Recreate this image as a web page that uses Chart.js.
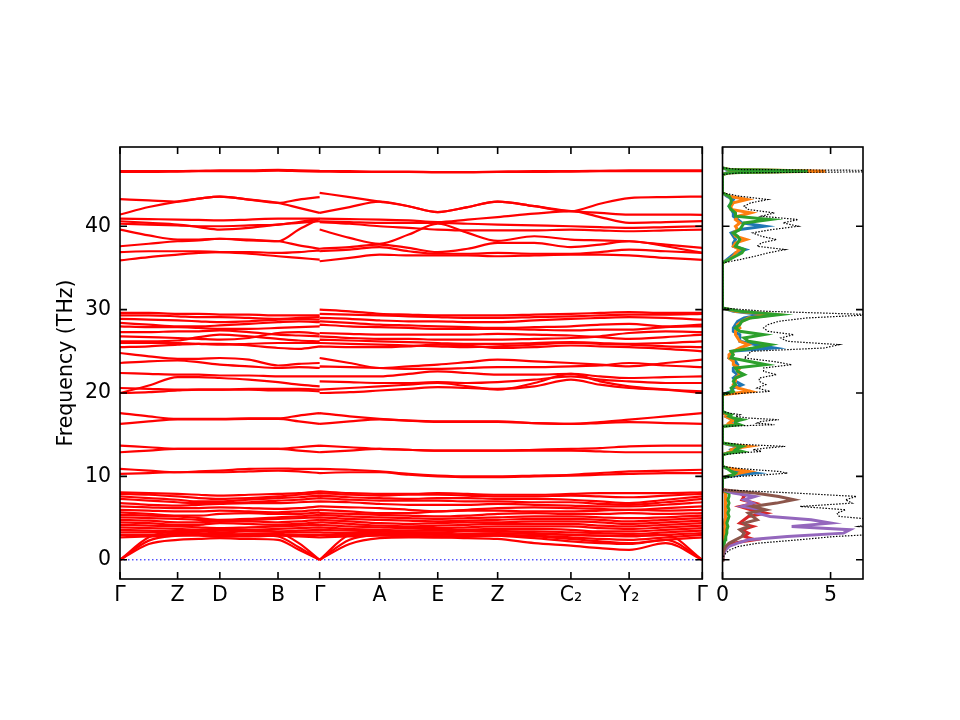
<!DOCTYPE html>
<html>
<head>
<meta charset="utf-8">
<script src="https://cdn.jsdelivr.net/npm/chart.js@4.4.1/dist/chart.umd.min.js"></script>
<style>
  html, body { margin: 0; padding: 0; background: #fff; }
  #wrap { position: relative; width: 960px; height: 720px; }
  #bandBox { position: absolute; left: 0; top: 0; width: 712px; height: 720px; }
  #dosBox { position: absolute; left: 712px; top: 0; width: 248px; height: 720px; }
</style>
</head>
<body>
<div id="wrap">
  <div id="bandBox"><canvas id="bandChart"></canvas></div>
  <div id="dosBox"><canvas id="dosChart"></canvas></div>
</div>
<script>
// q-path: sample positions, Γ-Z-D-B-Γ | Γ-A-E-Z-C2-Y2-Γ
const kPath = [0, 28.85, 57.7, 78.85, 100, 129.15, 158.3, 179.15, 200,
               200, 230, 260, 289.15, 318.3, 348.3, 378.3, 415, 451.7, 480.85, 510, 546.65, 583.3];
const segBreak = 9;
const kTicks = [0, 57.7, 100, 158.3, 200, 260, 318.3, 378.3, 451.7, 510, 583.3];
const kLabels = ['Γ', 'Z', 'D', 'B', 'Γ', 'A', 'E', 'Z', 'C₂', 'Y₂', 'Γ'];
const yTicks = [0, 10, 20, 30, 40];

// phonon branches (THz)
const acousticBands = [
  [0,1.9,2.4,2.5,2.6,2.5,2.4,1.2,0, 0,1.9,2.6,2.7,2.7,2.6,2.5,2.0,1.7,1.4,1.2,2.0,0],
  [0,2.3,2.9,3.0,3.1,3.0,2.8,1.5,0, 0,2.4,3.0,3.1,3.1,3.0,2.9,2.6,2.2,2.0,1.9,2.4,0],
  [0,2.7,3.5,3.6,3.7,3.6,3.3,2.0,0, 0,3.0,3.4,3.5,3.6,3.6,3.5,3.2,3.0,2.9,2.8,3.0,0]
];
const lowBands = [
  [8.1,8.0,7.9,7.8,7.7,7.8,7.9,8.0,8.2, 8.2,8.0,7.9,7.9,8.0,7.9,7.8,7.8,7.9,8.0,8.0,8.0,8.1],
  [7.9,7.8,7.6,7.4,7.3,7.4,7.6,7.8,8.0, 8.0,7.8,7.7,7.8,7.8,7.7,7.6,7.6,7.7,7.6,7.5,7.7,7.9],
  [7.6,7.4,7.2,7.0,7.0,7.2,7.4,7.5,7.7, 7.7,7.5,7.4,7.3,7.4,7.4,7.3,7.3,7.2,7.0,6.8,7.2,7.6],
  [7.3,7.1,6.9,6.8,6.8,6.9,7.1,7.2,7.4, 7.4,7.2,7.1,7.1,7.1,7.0,7.0,6.9,6.9,6.7,6.6,6.9,7.3],
  [6.8,6.6,6.5,6.6,6.7,6.8,6.8,6.9,7.0, 7.0,6.9,6.7,6.6,6.6,6.6,6.7,6.6,6.5,6.4,6.4,6.6,6.9],
  [6.4,6.3,6.2,6.2,6.3,6.2,6.1,6.2,6.4, 6.4,6.3,6.2,6.0,5.8,6.0,6.2,6.3,6.2,6.1,6.0,6.2,6.4],
  [6.0,5.9,5.8,5.8,5.9,5.8,5.7,5.8,6.0, 6.0,5.8,5.6,5.6,5.8,5.9,5.9,5.8,5.8,5.9,6.0,5.9,6.0],
  [5.7,5.5,5.3,5.3,5.5,5.6,5.5,5.5,5.7, 5.6,5.5,5.4,5.3,5.2,5.3,5.5,5.6,5.5,5.5,5.6,5.5,5.6],
  [5.4,5.3,5.2,5.0,4.8,4.9,5.1,5.2,5.4, 5.4,5.2,5.1,5.0,4.9,5.0,5.1,5.2,5.2,5.1,5.0,5.1,5.3],
  [5.1,5.0,4.9,4.8,4.7,4.8,4.9,5.0,5.1, 5.1,4.9,4.8,4.7,4.6,4.7,4.8,4.9,4.9,4.8,4.6,4.8,5.0],
  [4.8,4.7,4.5,4.5,4.6,4.6,4.5,4.6,4.8, 4.8,4.6,4.4,4.3,4.4,4.5,4.5,4.6,4.6,4.5,4.3,4.5,4.7],
  [4.5,4.4,4.2,4.2,4.4,4.3,4.2,4.3,4.5, 4.5,4.3,4.1,4.0,4.1,4.2,4.3,4.3,4.3,4.1,4.0,4.2,4.4],
  [4.2,4.1,4.0,3.9,3.8,3.9,4.0,4.1,4.2, 4.2,4.0,3.9,3.8,3.8,3.9,4.0,4.0,4.0,3.8,3.7,3.9,4.1],
  [3.9,3.8,3.7,3.6,3.5,3.6,3.7,3.8,3.9, 3.9,3.7,3.6,3.5,3.5,3.6,3.7,3.7,3.6,3.4,3.4,3.6,3.8],
  [3.6,3.5,3.4,3.4,3.3,3.4,3.4,3.5,3.6, 3.6,3.5,3.4,3.3,3.3,3.4,3.4,3.4,3.3,3.2,3.1,3.3,3.5],
  [3.3,3.3,3.3,3.2,3.0,3.1,3.2,3.3,3.3, 3.3,3.2,3.2,3.1,3.0,3.1,3.2,3.1,3.0,2.9,2.9,3.0,3.2],
  [3.0,3.0,3.1,3.0,2.8,2.9,3.0,3.0,3.0, 3.0,3.0,3.0,2.9,2.8,2.9,3.0,2.9,2.7,2.5,2.4,2.7,3.0],
  [2.7,2.8,2.9,2.9,2.8,2.8,2.9,2.8,2.7, 2.7,2.8,2.9,2.8,2.7,2.8,2.9,2.8,2.5,2.2,2.0,2.4,2.7]
];
const midBands = [
  [10.9,10.7,10.5,10.6,10.7,10.9,10.95,10.9,10.9, 10.9,10.8,10.6,10.3,10.1,10.0,10.0,10.1,10.2,10.4,10.6,10.7,10.8],
  [10.3,10.4,10.5,10.5,10.5,10.6,10.7,10.6,10.4, 10.4,10.5,10.5,10.2,10.0,9.9,9.9,10.0,10.1,10.2,10.3,10.4,10.4],
  [13.7,13.5,13.3,13.3,13.3,13.3,13.3,13.5,13.7, 13.7,13.5,13.3,13.2,13.1,13.1,13.1,13.2,13.3,13.4,13.6,13.7,13.7],
  [12.9,13.1,13.3,13.3,13.3,13.3,13.3,13.1,12.9, 12.9,13.1,13.3,13.2,13.1,13.1,13.1,13.1,13.1,13.0,12.9,12.9,12.9],
  [17.6,17.2,16.9,16.9,16.9,16.95,16.95,17.3,17.6, 17.6,17.2,16.9,16.7,16.6,16.6,16.6,16.4,16.3,16.5,16.8,17.2,17.6],
  [16.3,16.6,16.85,16.85,16.85,16.9,16.9,16.6,16.3, 16.3,16.6,16.85,16.7,16.55,16.55,16.55,16.4,16.3,16.4,16.5,16.4,16.3]
];
const upperBands = [
  [29.6,29.6,29.5,29.5,29.4,29.4,29.3,29.3,29.3, 30.0,29.8,29.5,29.4,29.3,29.3,29.3,29.4,29.5,29.6,29.7,29.6,29.6],
  [29.3,29.3,29.2,29.1,29.1,29.0,28.9,29.0,29.1, 29.5,29.4,29.3,29.2,29.1,29.0,29.0,29.1,29.2,29.3,29.4,29.4,29.5],
  [28.9,28.8,28.7,28.6,28.5,28.6,28.8,28.9,28.8, 29.0,28.9,28.7,28.6,28.6,28.5,28.5,28.7,28.9,29.0,29.1,29.0,28.8],
  [28.4,28.2,28.0,28.0,28.1,28.3,28.5,28.6,28.5, 28.6,28.4,28.2,28.1,28.0,27.9,27.8,27.9,28.0,28.2,28.3,28.0,28.2],
  [28.0,27.9,27.9,27.8,27.7,27.7,27.8,27.9,28.0, 28.2,28.0,27.9,27.8,27.7,27.7,27.7,27.6,27.5,27.6,27.6,27.9,28.0],
  [27.3,27.3,27.4,27.4,27.5,27.3,27.0,26.9,26.8, 27.2,27.1,27.0,27.0,27.0,27.0,27.1,27.0,26.9,26.7,26.5,26.7,27.0],
  [26.8,26.7,26.6,26.5,26.4,26.6,27.2,27.3,27.1, 26.8,26.6,26.5,26.5,26.4,26.4,26.4,26.5,26.6,26.8,27.2,27.4,27.3],
  [26.2,26.2,26.3,26.7,27.0,26.8,26.5,26.3,26.2, 26.4,26.3,26.2,26.1,26.0,25.9,25.9,26.0,26.1,26.0,25.9,26.0,26.2],
  [26.0,26.0,26.0,25.9,25.8,25.9,26.0,26.0,26.0, 26.0,25.9,25.8,25.7,25.6,25.5,25.6,25.8,26.0,25.9,25.8,25.6,25.5],
  [25.5,25.6,25.8,25.9,25.9,25.7,25.4,25.3,25.6, 25.6,25.5,25.5,25.6,25.8,25.7,25.4,25.5,25.7,25.6,25.5,25.3,25.0],
  [24.8,24.4,24.1,24.1,24.2,24.0,23.3,23.5,23.6, 24.2,23.6,23.0,23.2,23.4,23.7,24.0,23.8,23.6,23.4,23.2,23.6,24.0],
  [23.6,23.8,23.9,23.7,23.4,23.2,23.0,23.1,23.0, 23.2,23.1,23.0,22.9,22.9,23.0,23.1,23.1,23.2,23.3,23.6,23.3,23.1],
  [22.4,22.3,22.2,22.2,22.1,22.1,22.0,22.0,22.0, 22.0,22.0,22.0,22.3,22.6,22.4,22.2,22.2,22.3,22.0,21.8,21.9,22.0],
  [20.0,20.9,21.9,21.9,21.8,21.6,21.3,21.0,20.8, 21.4,21.3,21.2,21.2,21.3,21.2,21.3,21.6,22.0,21.6,21.4,21.2,21.2],
  [20.6,20.5,20.4,20.4,20.4,20.5,20.5,20.5,20.4, 20.4,20.6,20.8,21.0,21.2,20.8,20.4,21.2,22.3,21.4,20.8,20.4,20.0],
  [20.0,20.1,20.3,20.4,20.4,20.4,20.3,20.3,20.2, 20.0,20.1,20.3,20.5,20.7,20.6,20.5,20.8,21.6,21.0,20.6,20.4,20.2]
];
const highBands = [
  [43.25,43.1,42.96,43.3,43.56,43.2,42.8,43.2,43.5, 44.0,43.5,42.96,42.4,41.7,42.3,42.96,42.4,41.8,42.7,43.37,43.5,43.56],
  [41.4,42.3,42.96,43.3,43.56,43.2,42.8,42.2,41.6, 41.6,42.3,42.96,42.4,41.7,42.3,42.96,42.4,41.8,41.6,41.4,41.4,41.37],
  [40.9,40.85,40.8,40.75,40.7,40.8,40.9,40.9,40.9, 40.9,40.85,40.8,40.7,40.5,40.8,41.1,41.5,41.8,41.1,40.4,40.5,40.6],
  [40.6,40.4,40.2,39.9,39.6,39.8,40.2,40.4,40.6, 40.6,40.5,40.4,40.4,40.4,40.3,40.2,40.1,40.0,39.9,39.8,39.9,40.0],
  [40.3,40.2,40.1,40.0,40.0,40.1,40.2,40.5,40.9, 40.5,40.3,40.0,39.8,39.6,39.5,39.5,39.5,39.6,39.5,39.4,39.5,39.6],
  [39.6,38.9,38.4,38.4,38.5,38.4,38.2,39.6,40.9, 39.6,38.6,37.9,39.0,40.3,39.2,38.25,38.8,38.4,38.3,38.2,37.8,37.4],
  [37.6,37.9,38.2,38.3,38.5,38.3,38.2,37.7,37.3, 37.3,37.5,37.8,37.4,36.9,37.3,38.0,38.0,37.5,37.8,38.2,37.6,36.8],
  [36.9,37.0,37.0,37.0,36.9,36.9,36.8,36.9,37.1, 37.0,37.2,37.5,37.0,36.7,36.7,36.8,36.7,36.7,36.9,37.2,37.0,36.8],
  [35.9,36.3,36.6,36.8,36.9,36.7,36.4,36.2,36.0, 35.8,36.2,36.6,36.5,36.5,36.5,36.4,36.5,36.6,36.6,36.5,36.2,35.97]
];
const topBands = [
  [46.6,46.6,46.6,46.65,46.7,46.7,46.75,46.7,46.65, 46.65,46.6,46.55,46.55,46.5,46.5,46.55,46.6,46.6,46.65,46.7,46.7,46.7],
  [46.5,46.5,46.55,46.6,46.6,46.6,46.65,46.6,46.55, 46.55,46.5,46.5,46.5,46.45,46.45,46.5,46.5,46.55,46.6,46.6,46.6,46.6]
];

// projected DOS, light species on the full grid
const dosFreq = [
  0,0.4,0.8,1.2,1.6,2.0,2.4,2.8,3.2,3.6,4.0,4.4,4.8,5.2,5.6,6.0,6.4,6.8,7.2,7.6,8.0,8.4,
  9.8,10.0,10.2,10.4,10.6,10.8,11.0,11.2,
  12.6,12.8,13.0,13.2,13.4,13.6,13.8,14.0,
  16.0,16.2,16.4,16.6,16.8,17.0,17.2,17.4,17.6,17.8,
  19.8,20.2,20.6,21.0,21.4,21.8,22.2,22.6,23.0,23.4,23.8,24.2,24.6,25.0,25.4,25.8,26.2,26.6,27.0,27.4,27.8,28.2,28.6,29.0,29.4,29.8,30.2,
  35.6,36.0,36.4,36.8,37.2,37.6,38.0,38.4,38.8,39.2,39.6,40.0,40.4,40.8,41.2,41.6,42.0,42.4,42.8,43.2,43.6,44.0,
  46.2,46.4,46.5,46.6,46.7,46.8,47.0
];
const dosTotal = [
  0,0.05,0.15,0.35,0.73,1.66,3.54,5.21,8.2,8.0,6.29,7.2,7.19,5.4,5.29,5.7,3.59,6.0,5.69,6.2,3.4,0,
  0,0.8,2.0,3.0,2.6,1.5,0.6,0,
  0,0.8,1.8,1.4,2.0,2.9,1.2,0,
  0,2.4,1.6,1.8,2.6,1.2,0.6,0.8,0.3,0,
  0,2.2,1.6,2.0,1.7,1.7,2.5,1.9,1.9,3.2,2.3,1.0,1.2,1.3,4.7,5.4,3.0,2.7,3.3,2.1,1.9,2.1,2.6,3.9,7.0,2.0,0,
  0,0.8,1.5,2.1,2.9,1.6,1.8,2.5,1.8,1.4,2.3,3.5,2.8,3.5,1.8,2.4,1.2,1.0,1.3,2.1,0.8,0,
  0,0.8,5.5,12.2,6.9,0.8,0
];
const dosBlue = [
  0,0,0.01,0.01,0.02,0.04,0.06,0.08,0.1,0.1,0.12,0.1,0.12,0.15,0.12,0.15,0.12,0.15,0.12,0.15,0.15,0,
  0,0.3,0.8,1.5,0.9,0.4,0.15,0,
  0,0.2,0.5,0.4,0.6,0.8,0.3,0,
  0,0.6,0.4,0.4,0.7,0.3,0.15,0.2,0.05,0,
  0,0.4,0.5,0.9,0.6,0.5,0.7,0.5,0.5,0.7,0.6,0.3,0.4,0.4,2.4,1.5,0.8,0.8,0.8,0.5,0.5,0.6,0.7,1.0,1.8,0.5,0,
  0,0.2,0.4,0.6,1.05,0.5,0.5,0.6,0.5,0.4,0.8,1.95,0.9,0.7,0.5,0.5,0.4,0.3,0.4,0.5,0.2,0,
  0,0.2,1.5,3.5,2.0,0.2,0
];
const dosOrange = [
  0,0,0.01,0.01,0.02,0.04,0.06,0.08,0.1,0.1,0.12,0.1,0.12,0.15,0.12,0.15,0.12,0.15,0.12,0.15,0.15,0,
  0,0.2,0.5,0.8,1.2,0.7,0.2,0,
  0,0.2,0.4,0.4,0.7,1.2,0.4,0,
  0,0.5,0.3,0.4,0.6,0.3,0.15,0.2,0.05,0,
  0,1.3,0.7,0.5,0.6,0.6,0.8,0.7,0.8,0.5,0.5,0.3,0.3,0.5,0.8,1.2,0.8,0.7,0.6,0.6,0.8,0.7,0.9,1.2,2.4,0.6,0,
  0,0.3,0.5,0.6,0.8,0.5,0.6,1.1,0.6,0.5,0.7,0.6,0.8,0.6,0.7,1.3,0.4,0.4,0.5,1.14,0.3,0,
  0,0.3,2.0,4.77,2.5,0.3,0
];
const dosGreen = [
  0,0.01,0.01,0.02,0.04,0.08,0.12,0.15,0.2,0.2,0.25,0.2,0.25,0.3,0.25,0.3,0.25,0.3,0.25,0.3,0.3,0,
  0,0.2,0.5,0.6,0.4,0.3,0.2,0,
  0,0.3,0.9,0.6,0.7,0.9,0.5,0,
  0,0.8,0.6,0.6,0.9,0.5,0.3,0.4,0.15,0,
  0,0.5,0.4,0.6,0.5,0.6,1.0,0.7,0.6,2.0,1.2,0.4,0.5,0.4,1.4,2.2,1.2,1.0,1.9,0.8,0.6,0.8,0.9,1.3,2.6,0.8,0,
  0,0.3,0.6,0.9,1.0,0.6,0.7,0.8,0.7,0.5,0.8,0.9,1.0,2.2,0.6,0.6,0.4,0.3,0.4,0.4,0.3,0,
  0,0.3,2.0,3.94,2.4,0.3,0
];
// heavy species only live below 8.5 THz
const lowFreq = [0,0.4,0.8,1.2,1.6,2.0,2.4,2.8,3.2,3.6,4.0,4.4,4.8,5.2,5.6,6.0,6.4,6.8,7.2,7.6,8.0,8.4];
const dosRed    = [0,0.01,0.03,0.08,0.2,0.5,1.5,1.0,1.2,0.9,1.4,0.8,1.0,1.2,2.0,1.3,0.8,1.5,0.9,1.0,0.8,0];
const dosPurple = [0,0.02,0.06,0.15,0.3,0.7,1.2,3.0,5.6,5.9,3.2,5.0,4.1,2.2,1.6,1.8,0.9,1.4,1.0,1.5,0.5,0];
const dosBrown  = [0,0.01,0.03,0.08,0.15,0.3,0.6,0.9,1.0,0.8,1.2,1.0,1.6,1.4,1.2,2.0,1.4,2.5,3.3,2.6,1.5,0];

Chart.defaults.font.family = "'DejaVu Sans', sans-serif";
Chart.defaults.font.size = 20.5;
Chart.defaults.color = '#000';

// frame + inward ticks on all four sides
const framePlugin = {
  id: 'frame',
  afterDatasetsDraw(chart, args, opts) {
    const { ctx, chartArea: a, scales } = chart;
    ctx.save();
    ctx.strokeStyle = '#000';
    ctx.lineWidth = 1.6;
    ctx.beginPath();
    opts.xTicks.forEach(v => {
      const px = scales.x.getPixelForValue(v);
      ctx.moveTo(px, a.bottom); ctx.lineTo(px, a.bottom - 7);
      ctx.moveTo(px, a.top); ctx.lineTo(px, a.top + 7);
    });
    opts.yTicks.forEach(v => {
      const py = scales.y.getPixelForValue(v);
      ctx.moveTo(a.left, py); ctx.lineTo(a.left + 7, py);
      ctx.moveTo(a.right, py); ctx.lineTo(a.right - 7, py);
    });
    ctx.stroke();
    ctx.strokeRect(a.left, a.top, a.right - a.left, a.bottom - a.top);
    ctx.restore();
  }
};

function bandData(vals) {
  const pts = [];
  kPath.forEach((x, i) => {
    if (i === segBreak) pts.push({ x: x, y: null });
    pts.push({ x: x, y: vals[i] });
  });
  return pts;
}

const allBands = [].concat(topBands, highBands, upperBands, midBands, lowBands, acousticBands);
const bandSets = allBands.map(b => ({
  data: bandData(b),
  borderColor: '#ff0000',
  borderWidth: 2.2,
  pointRadius: 0,
  cubicInterpolationMode: 'monotone',
  spanGaps: false
}));
bandSets.push({
  data: [{ x: kTicks[0], y: 0 }, { x: kTicks[kTicks.length - 1], y: 0 }],
  borderColor: '#0000ff',
  borderWidth: 1,
  borderDash: [1.5, 2.5],
  pointRadius: 0
});

new Chart(document.getElementById('bandChart'), {
  type: 'line',
  data: { datasets: bandSets },
  plugins: [framePlugin],
  options: {
    responsive: true,
    maintainAspectRatio: false,
    animation: false,
    events: [],
    layout: { padding: { left: 0, top: 147, right: 9, bottom: 101 } },
    plugins: {
      legend: { display: false },
      tooltip: { enabled: false },
      frame: { xTicks: kTicks, yTicks: yTicks }
    },
    scales: {
      x: {
        type: 'linear', min: 0, max: 583.3,
        grid: { display: false, drawTicks: false }, border: { display: false },
        afterBuildTicks: s => { s.ticks = kTicks.map(v => ({ value: v })); },
        ticks: { autoSkip: false, maxRotation: 0, padding: 4, callback: (v, i) => kLabels[i] },
        afterFit: s => { s.height = 40; }
      },
      y: {
        type: 'linear', min: -2.3, max: 49.5,
        grid: { display: false, drawTicks: false }, border: { display: false },
        afterBuildTicks: s => { s.ticks = yTicks.map(v => ({ value: v })); },
        ticks: { padding: 9 },
        title: { display: true, text: 'Frequency (THz)', padding: { top: 54, bottom: 0 } },
        afterFit: s => { s.width = 120; }
      }
    }
  }
});

function dosSet(freq, vals, color, width, dash) {
  return {
    data: freq.map((f, i) => ({ x: vals[i], y: f })),
    borderColor: color,
    borderWidth: width,
    borderDash: dash || [],
    pointRadius: 0,
    showLine: true,
    fill: false
  };
}

// first dataset is drawn on top
new Chart(document.getElementById('dosChart'), {
  type: 'scatter',
  data: {
    datasets: [
      dosSet(dosFreq, dosTotal, '#000000', 1.2, [1.5, 1.5]),
      dosSet(lowFreq, dosBrown, '#8c564b', 3),
      dosSet(lowFreq, dosPurple, '#9467bd', 3),
      dosSet(lowFreq, dosRed, '#d62728', 3),
      dosSet(dosFreq, dosGreen, '#2ca02c', 3),
      dosSet(dosFreq, dosOrange, '#ff7f0e', 3),
      dosSet(dosFreq, dosBlue, '#1f77b4', 3)
    ]
  },
  plugins: [framePlugin],
  options: {
    responsive: true,
    maintainAspectRatio: false,
    animation: false,
    events: [],
    layout: { padding: { left: 0, top: 147, right: 97, bottom: 101 } },
    plugins: {
      legend: { display: false },
      tooltip: { enabled: false },
      frame: { xTicks: [0, 5], yTicks: yTicks }
    },
    scales: {
      x: {
        type: 'linear', min: 0, max: 6.5,
        grid: { display: false, drawTicks: false }, border: { display: false },
        afterBuildTicks: s => { s.ticks = [{ value: 0 }, { value: 5 }]; },
        ticks: { autoSkip: false, maxRotation: 0, padding: 4 },
        afterFit: s => { s.height = 40; }
      },
      y: {
        type: 'linear', min: -2.3, max: 49.5,
        grid: { display: false, drawTicks: false }, border: { display: false },
        ticks: { display: false },
        afterFit: s => { s.width = 8; }
      }
    }
  }
});
</script>
</body>
</html>
